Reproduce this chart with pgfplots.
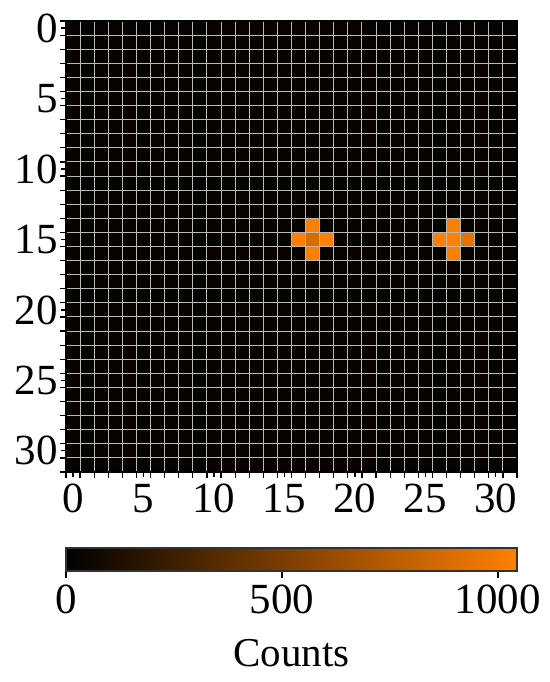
\documentclass[border=0pt]{standalone}
\usepackage{fontspec}
\setmainfont{Liberation Serif}
\usepackage{pgfplots}
\pgfplotsset{compat=1.18}
\begin{document}
\begin{tikzpicture}
\begin{axis}[
  at={(33pt,105pt)}, anchor=south west,
  width=225.5pt, height=225.5pt, scale only axis,
  xmin=-0.5, xmax=31.5, ymin=-0.5, ymax=31.5, y dir=reverse,
  enlargelimits=false,
  xtick={0,5,...,30}, ytick={0,5,...,30},
  minor xtick={-0.5,0.5,...,31.5}, minor ytick={-0.5,0.5,...,31.5},
  tick align=outside, tick pos=left,
  major tick length=2.5pt, minor tick length=3pt,
  every tick/.style={black, line width=0.6pt},
  xminorgrids=true, yminorgrids=true,
  minor grid style={draw=gray!55!white, line width=0.5pt},
  axis on top,
  axis line style={line width=0.7pt},
  ticklabel style={font=\fontsize{21.5}{25}\selectfont},
  yticklabel style={inner sep=1.5pt},
  /pgf/number format/assume math mode=true,
  colormap={blackorange}{rgb255=(0,0,0) rgb255=(255,128,0)},
  point meta min=0, point meta max=1044,
  colorbar horizontal,
  colorbar style={
    at={(parent axis.south west)}, anchor=north west, yshift=-29.5pt,
    width=225.5pt, height=11.5pt, scale only axis,
    xtick={0,500,1000},
    tick align=outside, xtick pos=left, xticklabel pos=left,
    major tick length=3.5pt,
    every tick/.style={black, line width=0.6pt},
    axis line style={line width=0.7pt, draw=black!80},
    xticklabel style={font=\fontsize{21.5}{25}\selectfont},
    /pgf/number format/assume math mode=true,
    /pgf/number format/1000 sep={},
    xlabel={Counts},
    xlabel style={font=\fontsize{20.5}{24}\selectfont, yshift=-5.5pt},
  },
]
\addplot[matrix plot*, mesh/cols=32, mesh/rows=32, point meta=explicit]
 table[header=false, row sep=\\,
   x expr={\coordindex-32*floor((\coordindex+0.5)/32)},
   y expr={floor((\coordindex+0.5)/32)}, meta index=0] {
30\\30\\30\\30\\30\\30\\30\\30\\30\\30\\30\\30\\30\\30\\30\\30\\30\\30\\30\\30\\30\\30\\30\\30\\30\\30\\30\\30\\30\\30\\30\\30\\
30\\30\\30\\30\\30\\30\\30\\30\\30\\30\\30\\30\\30\\30\\30\\30\\30\\30\\30\\30\\30\\30\\30\\30\\30\\30\\30\\30\\30\\30\\30\\30\\
30\\30\\30\\30\\30\\30\\30\\30\\30\\30\\30\\30\\30\\30\\30\\30\\30\\30\\30\\30\\30\\30\\30\\30\\30\\30\\30\\30\\30\\30\\30\\30\\
30\\30\\30\\30\\30\\30\\30\\30\\30\\30\\30\\30\\30\\30\\30\\30\\30\\30\\30\\30\\30\\30\\30\\30\\30\\30\\30\\30\\30\\30\\30\\30\\
30\\30\\30\\30\\30\\30\\30\\30\\30\\30\\30\\30\\30\\30\\30\\30\\30\\30\\30\\30\\30\\30\\30\\30\\30\\30\\30\\30\\30\\30\\30\\30\\
30\\30\\30\\30\\30\\30\\30\\30\\30\\30\\30\\30\\30\\30\\30\\30\\30\\30\\30\\30\\30\\30\\30\\30\\30\\30\\30\\30\\30\\30\\30\\30\\
30\\30\\30\\30\\30\\30\\30\\30\\30\\30\\30\\30\\30\\30\\30\\30\\30\\30\\30\\30\\30\\30\\30\\30\\30\\30\\30\\30\\30\\30\\30\\30\\
30\\30\\30\\30\\30\\30\\30\\30\\30\\30\\30\\30\\30\\30\\30\\30\\30\\30\\30\\30\\30\\30\\30\\30\\30\\30\\30\\30\\30\\30\\30\\30\\
30\\30\\30\\30\\30\\30\\30\\30\\30\\30\\30\\30\\30\\30\\30\\30\\30\\30\\30\\30\\30\\30\\30\\30\\30\\30\\30\\30\\30\\30\\30\\30\\
30\\30\\30\\30\\30\\30\\30\\30\\30\\30\\30\\30\\30\\30\\30\\30\\30\\30\\30\\30\\30\\30\\30\\30\\30\\30\\30\\30\\30\\30\\30\\30\\
30\\30\\30\\30\\30\\30\\30\\30\\30\\30\\30\\30\\30\\30\\30\\30\\30\\30\\30\\30\\30\\30\\30\\30\\30\\30\\30\\30\\30\\30\\30\\30\\
30\\30\\30\\30\\30\\30\\30\\30\\30\\30\\30\\30\\30\\30\\30\\30\\30\\30\\30\\30\\30\\30\\30\\30\\30\\30\\30\\30\\30\\30\\30\\30\\
30\\30\\30\\30\\30\\30\\30\\30\\30\\30\\30\\30\\30\\30\\30\\30\\30\\30\\30\\30\\30\\30\\30\\30\\30\\30\\30\\30\\30\\30\\30\\30\\
30\\30\\30\\30\\30\\30\\30\\30\\30\\30\\30\\30\\30\\30\\30\\30\\30\\30\\30\\30\\30\\30\\30\\30\\30\\30\\30\\30\\30\\30\\30\\30\\
30\\30\\30\\30\\30\\30\\30\\30\\30\\30\\30\\30\\30\\30\\30\\30\\30\\1040\\30\\30\\30\\30\\30\\30\\30\\30\\30\\1030\\30\\30\\30\\30\\
30\\30\\30\\30\\30\\30\\30\\30\\30\\30\\30\\30\\30\\30\\30\\30\\1040\\875\\1040\\30\\30\\30\\30\\30\\30\\30\\1044\\1040\\940\\30\\30\\30\\
30\\30\\30\\30\\30\\30\\30\\30\\30\\30\\30\\30\\30\\30\\30\\30\\30\\1040\\30\\30\\30\\30\\30\\30\\30\\30\\30\\1030\\30\\30\\30\\30\\
30\\30\\30\\30\\30\\30\\30\\30\\30\\30\\30\\30\\30\\30\\30\\30\\30\\30\\30\\30\\30\\30\\30\\30\\30\\30\\30\\30\\30\\30\\30\\30\\
30\\30\\30\\30\\30\\30\\30\\30\\30\\30\\30\\30\\30\\30\\30\\30\\30\\30\\30\\30\\30\\30\\30\\30\\30\\30\\30\\30\\30\\30\\30\\30\\
30\\30\\30\\30\\30\\30\\30\\30\\30\\30\\30\\30\\30\\30\\30\\30\\30\\30\\30\\30\\30\\30\\30\\30\\30\\30\\30\\30\\30\\30\\30\\30\\
30\\30\\30\\30\\30\\30\\30\\30\\30\\30\\30\\30\\30\\30\\30\\30\\30\\30\\30\\30\\30\\30\\30\\30\\30\\30\\30\\30\\30\\30\\30\\30\\
30\\30\\30\\30\\30\\30\\30\\30\\30\\30\\30\\30\\30\\30\\30\\30\\30\\30\\30\\30\\30\\30\\30\\30\\30\\30\\30\\30\\30\\30\\30\\30\\
30\\30\\30\\30\\30\\30\\30\\30\\30\\30\\30\\30\\30\\30\\30\\30\\30\\30\\30\\30\\30\\30\\30\\30\\30\\30\\30\\30\\30\\30\\30\\30\\
30\\30\\30\\30\\30\\30\\30\\30\\30\\30\\30\\30\\30\\30\\30\\30\\30\\30\\30\\30\\30\\30\\30\\30\\30\\30\\30\\30\\30\\30\\30\\30\\
30\\30\\30\\30\\30\\30\\30\\30\\30\\30\\30\\30\\30\\30\\30\\30\\30\\30\\30\\30\\30\\30\\30\\30\\30\\30\\30\\30\\30\\30\\30\\30\\
30\\30\\30\\30\\30\\30\\30\\30\\30\\30\\30\\30\\30\\30\\30\\30\\30\\30\\30\\30\\30\\30\\30\\30\\30\\30\\30\\30\\30\\30\\30\\30\\
30\\30\\30\\30\\30\\30\\30\\30\\30\\30\\30\\30\\30\\30\\30\\30\\30\\30\\30\\30\\30\\30\\30\\30\\30\\30\\30\\30\\30\\30\\30\\30\\
30\\30\\30\\30\\30\\30\\30\\30\\30\\30\\30\\30\\30\\30\\30\\30\\30\\30\\30\\30\\30\\30\\30\\30\\30\\30\\30\\30\\30\\30\\30\\30\\
30\\30\\30\\30\\30\\30\\30\\30\\30\\30\\30\\30\\30\\30\\30\\30\\30\\30\\30\\30\\30\\30\\30\\30\\30\\30\\30\\30\\30\\30\\30\\30\\
30\\30\\30\\30\\30\\30\\30\\30\\30\\30\\30\\30\\30\\30\\30\\30\\30\\30\\30\\30\\30\\30\\30\\30\\30\\30\\30\\30\\30\\30\\30\\30\\
30\\30\\30\\30\\30\\30\\30\\30\\30\\30\\30\\30\\30\\30\\30\\30\\30\\30\\30\\30\\30\\30\\30\\30\\30\\30\\30\\30\\30\\30\\30\\30\\
30\\30\\30\\30\\30\\30\\30\\30\\30\\30\\30\\30\\30\\30\\30\\30\\30\\30\\30\\30\\30\\30\\30\\30\\30\\30\\30\\30\\30\\30\\30\\30\\
};
\end{axis}
\pgfresetboundingbox
\path (0pt,0pt) rectangle (275pt,341pt);
\end{tikzpicture}
\end{document}
